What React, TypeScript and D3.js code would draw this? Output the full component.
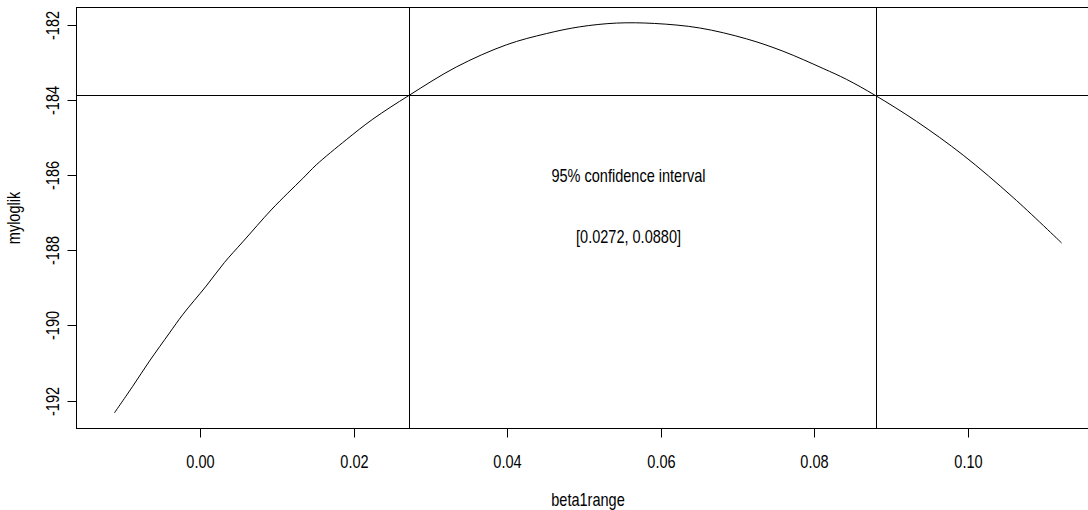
import { useMemo } from 'react'
import * as d3 from 'd3'

// profile log-likelihood
const beta1range = [
  -0.01122, -0.00883, -0.00665, -0.00404, -0.00231, 0.00074, 0.00313, 0.00552,
  0.00922, 0.01139, 0.01334, 0.01509, 0.019, 0.02247, 0.02717, 0.03335,
  0.03987, 0.04509, 0.04943, 0.05422, 0.05921, 0.06508, 0.07118, 0.07595,
  0.08117, 0.08422, 0.08791, 0.09335, 0.09943, 0.10595, 0.11226,
]
const myloglik = [
  -192.33, -191.62, -190.95, -190.2, -189.71, -188.95, -188.32, -187.77,
  -186.92, -186.47, -186.08, -185.72, -185.05, -184.5, -183.87, -183.11,
  -182.52, -182.22, -182.04, -181.94, -181.95, -182.07, -182.36, -182.69,
  -183.15, -183.44, -183.86, -184.56, -185.46, -186.59, -187.8,
]
const ci = [0.0272, 0.088]
const cutoff = -183.86
const xTicks = [0, 0.02, 0.04, 0.06, 0.08, 0.1]
const yTicks = [-192, -190, -188, -186, -184, -182]
const ciLabel = '95% confidence interval'
const ciText = '[0.0272, 0.0880]'
const labelPos = { x: 0.0558, y1: -186, y2: -187.65 }

const W = 1088
const H = 510
const FONT = '"Liberation Sans", Arial, sans-serif'
const FS = 17.5
const SQ = 0.83 // narrow glyphs in the reference

// R-style 4% axis extension
function pad(ext: [number, number]): [number, number] {
  const r = ext[1] - ext[0]
  return [ext[0] - 0.04 * r, ext[1] + 0.04 * r]
}

function Txt({ x, y, rot = 0, children }: { x: number; y: number; rot?: number; children: string }) {
  return (
    <text
      transform={`translate(${x},${y}) rotate(${rot}) scale(${SQ},1)`}
      textAnchor="middle"
      dy="0.35em"
      fontFamily={FONT}
      fontSize={FS}
      fill="#000"
    >
      {children}
    </text>
  )
}

export default function App() {
  const left = 76.5, right = 1099.5, top = 7.5, bottom = 428.5

  const x = d3.scaleLinear()
    .domain(pad(d3.extent(beta1range) as [number, number]))
    .range([left, right])
  const y = d3.scaleLinear()
    .domain(pad(d3.extent(myloglik) as [number, number]))
    .range([bottom, top])

  const path = useMemo(() => {
    const pts = beta1range.map((b, i) => [b, myloglik[i]] as [number, number])
    return d3.line<[number, number]>()
      .x(d => x(d[0]))
      .y(d => y(d[1]))
      .curve(d3.curveCatmullRom)(pts)
  }, [])

  return (
    <svg width={W} height={H} style={{ position: 'absolute', left: 0, top: 0, background: '#fff' }}>
      <rect x={0} y={0} width={W} height={H} fill="#fff" />

      {/* curve */}
      <path d={path ?? ''} fill="none" stroke="#000" strokeWidth={1} />

      {/* CI lines */}
      <line x1={left} x2={right} y1={Math.round(y(cutoff)) + 0.5} y2={Math.round(y(cutoff)) + 0.5} stroke="#000" />
      {ci.map(c => (
        <line key={c} x1={Math.round(x(c)) + 0.5} x2={Math.round(x(c)) + 0.5} y1={top} y2={bottom} stroke="#000" />
      ))}

      {/* box */}
      <rect x={left} y={top} width={right - left} height={bottom - top} fill="none" stroke="#000" />

      {/* x axis */}
      {xTicks.map(t => {
        const px = Math.round(x(t)) + 0.5
        return (
          <g key={t}>
            <line x1={px} x2={px} y1={bottom} y2={bottom + 9} stroke="#000" />
            <Txt x={px} y={462}>{d3.format('.2f')(t)}</Txt>
          </g>
        )
      })}

      {/* y axis */}
      {yTicks.map(t => {
        const py = Math.round(y(t)) + 0.5
        return (
          <g key={t}>
            <line x1={left - 9} x2={left} y1={py} y2={py} stroke="#000" />
            <Txt x={52.5} y={py} rot={-90}>{String(t)}</Txt>
          </g>
        )
      })}

      {/* axis titles */}
      <Txt x={(left + right) / 2} y={500}>beta1range</Txt>
      <Txt x={14} y={(top + bottom) / 2} rot={-90}>myloglik</Txt>

      {/* annotations */}
      <Txt x={x(labelPos.x)} y={y(labelPos.y1)}>{ciLabel}</Txt>
      <Txt x={x(labelPos.x)} y={y(labelPos.y2)}>{ciText}</Txt>
    </svg>
  )
}
